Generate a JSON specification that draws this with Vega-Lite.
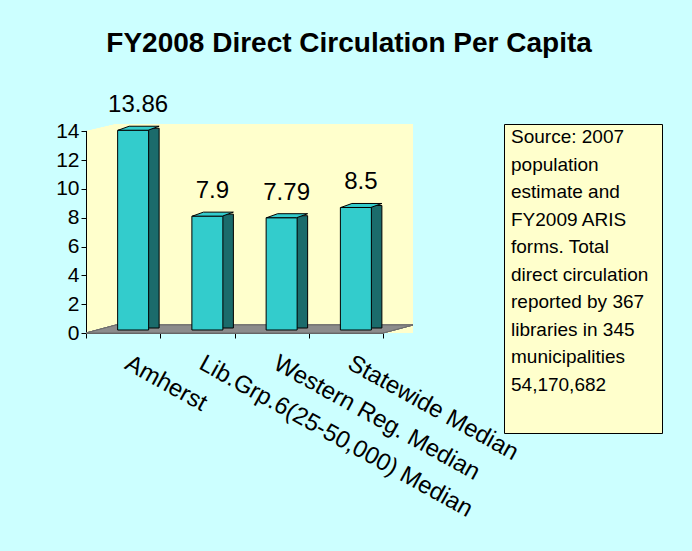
{
  "$schema": "https://vega.github.io/schema/vega-lite/v6.json",
  "background": "#CCFFFF",
  "padding": {"left": 55, "top": 30, "right": 30, "bottom": 31},
  "title": {
    "text": "FY2008 Direct Circulation Per Capita",
    "fontSize": 28,
    "fontWeight": "bold",
    "font": "Liberation Sans",
    "color": "black",
    "anchor": "middle",
    "dx": -10,
    "offset": 35
  },
  "config": {
    "font": "Liberation Sans",
    "axis": {"labelFont": "Liberation Sans", "labelColor": "black", "domainColor": "black", "tickColor": "black", "zindex": 1}
  },
  "datasets": {
    "bars": [
      {"category": "Amherst", "value": 13.86},
      {"category": "Lib.Grp.6(25-50,000) Median", "value": 7.9},
      {"category": "Western Reg. Median", "value": 7.79},
      {"category": "Statewide Median", "value": 8.5}
    ],
    "note": [
      {"note": "Source: 2007\npopulation\nestimate and\nFY2009 ARIS\nforms. Total\ndirect circulation\nreported by 367\nlibraries in 345\nmunicipalities\n54,170,682"}
    ]
  },
  "bounds": "flush",
  "spacing": 91,
  "hconcat": [
    {
      "width": 327,
      "height": 209,
      "view": {"fill": "#FFFFCC", "stroke": null},
      "data": {"name": "bars"},
      "encoding": {
        "x": {
          "field": "category",
          "type": "nominal",
          "sort": null,
          "scale": {"range": [0, 297], "paddingInner": 0, "paddingOuter": 0},
          "axis": {
            "title": null,
            "labelAngle": 29,
            "labelAlign": "left",
            "labelBaseline": "top",
            "labelFontSize": 24,
            "labelPadding": 13,
            "labelOffset": 9,
            "labelOverlap": false,
            "labelLimit": 0,
            "tickBand": "extent",
            "tickSize": 5
          }
        },
        "y": {
          "field": "value",
          "type": "quantitative",
          "scale": {"domain": [0, 14.5], "nice": false},
          "axis": {
            "title": null,
            "values": [0, 2, 4, 6, 8, 10, 12, 14],
            "grid": false,
            "labelFontSize": 21,
            "labelPadding": 2,
            "tickSize": 5
          }
        }
      },
      "layer": [
        {
          "mark": {
            "type": "point",
            "shape": "M-1,0.02446L-0.8165,-0.02446L1,-0.02446L0.8165,0.02446Z",
            "size": 106929,
            "filled": true,
            "fill": "#8C8C8C",
            "stroke": "#6E6E6E",
            "strokeWidth": 1,
            "opacity": 1,
            "yOffset": -4
          },
          "encoding": {"x": null, "y": {"datum": 0}}
        },
        {
          "mark": {
            "type": "point",
            "shape": "M-1.01,-1.30L-0.8165,-1.30L-0.8165,-1.2813L-1.01,-1.2355Z",
            "size": 106929,
            "filled": true,
            "fill": "#CCFFFF",
            "strokeWidth": 0,
            "opacity": 1
          },
          "encoding": {"x": null, "y": {"datum": 0}}
        },
        {
          "mark": {"type": "bar", "width": 11, "xOffset": 30.5, "yOffset": -5, "fill": "#1B6B6B", "stroke": "black", "strokeWidth": 1}
        },
        {
          "mark": {"type": "bar", "width": 31, "xOffset": 10, "yOffset": -3, "fill": "#33CCCC", "stroke": "black", "strokeWidth": 1}
        },
        {
          "mark": {
            "type": "point",
            "shape": "M-1,0.0976L0.4634,0.0976L1,-0.0976L-0.4634,-0.0976Z",
            "size": 1681,
            "filled": true,
            "fill": "#33CCCC",
            "stroke": "black",
            "strokeWidth": 1,
            "opacity": 1,
            "xOffset": 15.5,
            "yOffset": -5
          }
        },
        {
          "mark": {"type": "text", "fontSize": 24, "dx": 15, "dy": -21, "baseline": "alphabetic", "color": "black"},
          "encoding": {"text": {"field": "value", "type": "nominal"}}
        }
      ]
    },
    {
      "width": 158,
      "height": 309,
      "view": {"fill": "#FFFFCC", "stroke": "black", "strokeWidth": 1},
      "data": {"name": "note"},
      "mark": {
        "type": "text",
        "x": 7,
        "y": 4,
        "align": "left",
        "baseline": "top",
        "fontSize": 19,
        "lineHeight": 27.5,
        "lineBreak": "\n",
        "color": "black"
      },
      "encoding": {"text": {"field": "note", "type": "nominal"}}
    }
  ]
}
